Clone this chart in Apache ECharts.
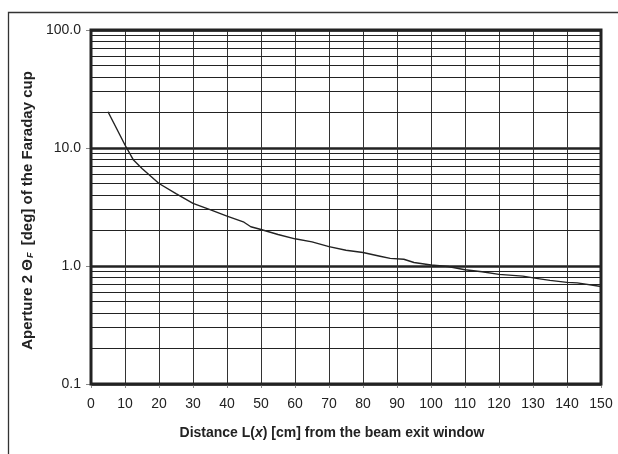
<!DOCTYPE html>
<html>
<head>
<meta charset="utf-8">
<script src="https://cdn.jsdelivr.net/npm/echarts@6/dist/echarts.min.js"></script>
<style>
html,body{margin:0;padding:0;background:#fff;}
#chart{width:618px;height:454px;}
</style>
</head>
<body>
<div id="chart"></div>
<script>
// Distance from beam exit window [cm]
const distance = [5, 10, 12.5, 15, 20, 25, 30, 35, 40, 45, 47, 50, 55, 60, 65, 70, 75, 80, 85, 88, 92, 95, 100, 105, 110, 115, 120, 127, 131, 135, 140, 143, 150];
// Aperture 2ΘF [deg]
const aperture = [20.3, 10.6, 7.9, 6.7, 5.0, 4.1, 3.4, 3.0, 2.65, 2.35, 2.15, 2.04, 1.85, 1.70, 1.60, 1.46, 1.36, 1.30, 1.21, 1.16, 1.14, 1.07, 1.02, 0.99, 0.93, 0.895, 0.85, 0.82, 0.785, 0.755, 0.727, 0.72, 0.67];
// minor horizontal gridlines (log axis)
const minorGrid = [0.2, 0.3, 0.4, 0.5, 0.6, 0.7, 0.8, 0.9, 2, 3, 4, 5, 6, 7, 8, 9, 20, 30, 40, 50, 60, 70, 80, 90];
const yMin = 0.1, yMax = 100;
const xMin = 0, xMax = 150, xStep = 10;

const chart = echarts.init(document.getElementById('chart'), null, {renderer: 'canvas'});
const font = '"Liberation Sans", Arial, sans-serif';
chart.setOption({
  animation: false,
  backgroundColor: '#fff',
  graphic: [{
    type: 'rect', left: 6, top: 10, silent: true, z: -10,
    shape: {x: 0, y: 0, width: 700, height: 600},
    style: {fill: 'none', stroke: '#333', lineWidth: 1.3}
  }],
  grid: {left: 91, top: 30, right: 17, bottom: 70, show: true, borderColor: '#222', borderWidth: 3, backgroundColor: 'transparent', z: 5},
  xAxis: {
    type: 'value', min: xMin, max: xMax, interval: xStep,
    axisLine: {show: false},
    axisTick: {show: true, length: 4, lineStyle: {color: '#888'}},
    axisLabel: {color: '#222', fontSize: 14, fontFamily: font, margin: 13},
    splitLine: {show: true, lineStyle: {color: '#333', width: 1}},
    name: '{a|Distance L(}{i|x}{a|) [cm] from the beam exit window}',
    nameLocation: 'middle', nameGap: 42,
    nameTextStyle: {
      padding: [0, 28, 0, 0],
      rich: {
        a: {fontSize: 14, fontWeight: 'bold', fontFamily: font, color: '#222'},
        i: {fontSize: 14, fontWeight: 'bold', fontStyle: 'italic', fontFamily: font, color: '#222'}
      }
    }
  },
  yAxis: {
    type: 'log', logBase: 10, min: yMin, max: yMax,
    axisLine: {show: false},
    axisTick: {show: true, length: 5, lineStyle: {color: '#888'}},
    axisLabel: {color: '#222', fontSize: 14, fontFamily: font, margin: 10,
      formatter: v => Number(v).toFixed(1)},
    splitLine: {show: true, lineStyle: {color: '#222', width: 2.5}},
    name: '{a|Aperture 2 Θ}{s|F}{a| [deg] of the Faraday cup}',
    nameLocation: 'middle', nameGap: 53, nameRotate: 90,
    nameTextStyle: {
      padding: [0, 7, 0, 0],
      rich: {
        a: {fontSize: 15, fontWeight: 'bold', fontFamily: font, color: '#222'},
        s: {fontSize: 9, fontStyle: 'italic', fontWeight: 'bold', fontFamily: font, color: '#222', verticalAlign: 'bottom', padding: [6, 3, 0, 1]}
      }
    }
  },
  series: [
    {
      type: 'line', data: [], z: 1, silent: true,
      markLine: {
        silent: true, symbol: 'none', label: {show: false}, animation: false,
        lineStyle: {color: '#222', width: 1, type: 'solid'},
        data: minorGrid.map(v => ({yAxis: v}))
      }
    },
    {
      type: 'line', z: 10,
      data: distance.map((d, i) => [d, aperture[i]]),
      showSymbol: false, symbol: 'none', smooth: false,
      lineStyle: {color: '#222', width: 1.4}
    }
  ]
});
</script>
</body>
</html>
